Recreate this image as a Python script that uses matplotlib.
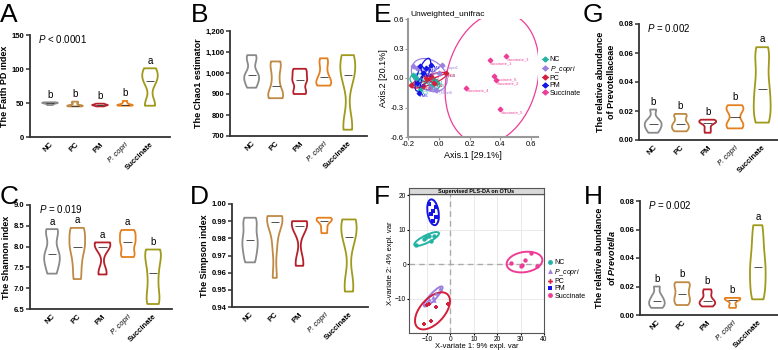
import numpy as np
import matplotlib
matplotlib.use("Agg")
import matplotlib.pyplot as plt
from matplotlib.patches import Ellipse
from matplotlib.lines import Line2D
from matplotlib.ticker import FuncFormatter

plt.rcParams['font.family'] = ['Liberation Sans', 'DejaVu Sans']
plt.rcParams['mathtext.fontset'] = 'custom'
plt.rcParams['mathtext.it'] = 'Liberation Sans:italic'
plt.rcParams['mathtext.rm'] = 'Liberation Sans'
plt.rcParams['mathtext.sf'] = 'Liberation Sans:italic:bold'
plt.rcParams['mathtext.bf'] = 'Liberation Sans:bold'

# ---- data ----
groups = ['NC', 'PC', 'PM', 'P. copri', 'Succinate']
colors = ['#8a8a8a', '#bf8a45', '#b5202a', '#e5801e', '#a09a1c']

faith = [[47, 48.5, 49.5, 50, 50.5, 51],
         [45, 45.5, 46, 46.5, 50, 52],
         [45, 46, 47, 47, 48, 49],
         [46, 46.5, 47, 47.5, 50, 53],
         [46, 48, 80, 86, 95, 101]]
chao1 = [[930, 960, 985, 995, 1060, 1085],
         [880, 890, 910, 970, 1030, 1055],
         [900, 915, 960, 970, 1005, 1020],
         [940, 950, 965, 995, 1040, 1070],
         [730, 760, 980, 1000, 1060, 1085]]
shannon = [[7.35, 7.6, 7.75, 7.9, 8.3, 8.42],
           [7.22, 7.6, 7.95, 8.05, 8.35, 8.45],
           [7.33, 7.4, 7.95, 8.05, 8.08, 8.1],
           [7.75, 7.85, 8.05, 8.15, 8.3, 8.4],
           [6.62, 6.8, 7.2, 7.55, 7.85, 7.93]]
simpson = [[0.966, 0.972, 0.977, 0.981, 0.988, 0.992],
           [0.957, 0.975, 0.988, 0.991, 0.992, 0.993],
           [0.964, 0.967, 0.986, 0.988, 0.989, 0.990],
           [0.983, 0.986, 0.989, 0.991, 0.991, 0.992],
           [0.949, 0.955, 0.978, 0.984, 0.989, 0.991]]
prevotellaceae = [[0.005, 0.008, 0.010, 0.012, 0.014, 0.021],
                  [0.006, 0.008, 0.010, 0.012, 0.016, 0.018],
                  [0.005, 0.008, 0.0115, 0.0125, 0.013, 0.014],
                  [0.008, 0.010, 0.013, 0.019, 0.022, 0.024],
                  [0.012, 0.020, 0.030, 0.040, 0.055, 0.064]]
prevotella = [[0.005, 0.007, 0.009, 0.011, 0.014, 0.020],
              [0.007, 0.010, 0.013, 0.017, 0.021, 0.023],
              [0.006, 0.008, 0.009, 0.011, 0.015, 0.018],
              [0.005, 0.007, 0.010, 0.011, 0.012, 0.012],
              [0.011, 0.020, 0.030, 0.038, 0.050, 0.063]]

faith_letters = ['b', 'b', 'b', 'b', 'a']
shannon_letters = ['a', 'a', 'a', 'a', 'b']
g_letters = ['b', 'b', 'b', 'b', 'a']

# beta diversity (PCoA, unweighted unifrac)
pcoa_groups = ['NC', 'P_copri', 'PC', 'PM', 'Succinate']
beta_colors = ['#22b3a3', '#9c80e0', '#d41f3c', '#1414e6', '#ee3d96']
pcoa_x = [[-0.17, -0.15, -0.05, -0.03, -0.12, -0.02],
          [-0.17, -0.14, 0.02, 0.0, -0.02, -0.06],
          [-0.18, -0.08, -0.05, 0.05, -0.10, -0.03],
          [-0.12, -0.05, -0.13, -0.14, -0.08, -0.10],
          [0.33, 0.44, 0.36, 0.37, 0.18, 0.40]]
pcoa_y = [[0.03, 0.00, -0.08, -0.02, -0.12, -0.05],
          [0.12, 0.10, 0.13, 0.05, -0.12, -0.10],
          [-0.07, 0.00, 0.02, 0.05, -0.08, -0.05],
          [0.12, 0.13, -0.15, -0.05, 0.10, 0.05],
          [0.18, 0.22, 0.02, -0.02, -0.10, -0.32]]
pcoa_labels = [['NC1', 'NC2', 'NC3', 'NC4', 'NC5', 'NC6'],
               ['P_copri3', 'P_copri2', 'P_copri1', 'P_copri4', 'P_copri6', 'P_copri5'],
               ['PC6', 'PC1', 'PC2', 'PC5', 'PC3', 'PC4'],
               ['PM1', 'PM2', 'PM6', 'PM5', 'PM3', 'PM4'],
               ['Succinate_1', 'Succinate_3', 'Succinate_6', 'Succinate_2', 'Succinate_4', 'Succinate_5']]

# PLS-DA
pls_x = [[-14.5, -11.5, -10.5, -9.0, -7.0, -8.5],
         [-10.0, -9.0, -7.5, -6.0, -4.5, -7.0],
         [-11.5, -8.5, -9.0, -6.0, -1.0, -10.0],
         [-9.0, -6.0, -7.5, -8.5, -6.0, -7.5],
         [34.5, 32.0, 30.0, 30.5, 26.0, 37.0]]
pls_y = [[5.5, 7.2, 7.8, 8.0, 8.2, 6.8],
         [-11.0, -10.0, -9.5, -8.5, -7.0, -10.5],
         [-17.5, -16.5, -11.5, -12.5, -11.5, -12.0],
         [17.5, 16.5, 15.5, 14.5, 13.5, 12.5],
         [3.3, 1.2, -0.5, -0.2, 0.3, -0.7]]
pls_markers = ['o', '^', 'P', 's', 'o']

W, H = 778, 350
fig = plt.figure(figsize=(W / 100, H / 100), dpi=100)


def px(l, t, r, b):
    return [l / W, 1 - b / H, (r - l) / W, (b - t) / H]


def violin_panel(rect, data, xlim, ylim, yticks, ylabel, fmt=None, letters=None, pval=None):
    ax = fig.add_axes(px(*rect))
    pos = np.arange(len(data))
    parts = ax.violinplot(data, positions=pos, widths=0.62, showextrema=False, bw_method=0.45)
    for body, c in zip(parts['bodies'], colors):
        body.set_facecolor('none')
        body.set_edgecolor(c)
        body.set_linewidth(1.3)
        body.set_alpha(1)
    meds = [np.median(d) for d in data]
    ax.hlines(meds, pos - 0.17, pos + 0.17, color='#333333', lw=0.6)
    ax.set_xlim(*xlim)
    ax.set_ylim(*ylim)
    ax.set_yticks(yticks)
    if fmt:
        ax.yaxis.set_major_formatter(FuncFormatter(fmt))
    ax.set_xticks(pos)
    ax.set_xticklabels(groups, rotation=45, ha='right', rotation_mode='anchor', fontsize=5.5, fontweight='bold')
    lab = ax.get_xticklabels()[3]
    lab.set_fontstyle('italic')
    lab.set_fontweight('normal')
    for s in ['top', 'right']:
        ax.spines[s].set_visible(False)
    for s in ['left', 'bottom']:
        ax.spines[s].set_linewidth(1.3)
        ax.spines[s].set_color('#333333')
    ax.tick_params(axis='y', length=3, width=1.1, labelsize=5.5, pad=1, color='#333333')
    ax.tick_params(axis='x', length=0, pad=3)
    for t in ax.get_yticklabels():
        t.set_fontweight('bold')
    ax.set_ylabel(ylabel, fontsize=6.5, fontweight='bold', labelpad=2)
    if letters:
        span = ylim[1] - ylim[0]
        for i, (d, l) in enumerate(zip(data, letters)):
            ax.text(i, max(d) + 0.025 * span, l, ha='center', va='bottom', fontsize=7)
    if pval:
        ax.text(0.06, 0.965, pval, transform=ax.transAxes, ha='left', va='center', fontsize=7)
    return ax


violin_panel((30, 35, 170, 137), faith, (-0.8, 4.8), (0, 150), [0, 50, 100, 150],
             'The Faith PD index', letters=faith_letters, pval=r'$\mathit{P}$ < 0.0001')
violin_panel((230, 31, 367, 136), chao1, (-0.9, 4.8), (700, 1200), range(700, 1201, 100),
             'The Chao1 estimator', fmt=lambda v, p: f'{int(v):,}')
violin_panel((30, 205, 172, 309), shannon, (-0.87, 4.75), (6.5, 9.0), [6.5, 7.0, 7.5, 8.0, 8.5, 9.0],
             'The Shannon index', fmt=lambda v, p: f'{v:.1f}', letters=shannon_letters,
             pval=r'$\mathit{P}$ = 0.019')
violin_panel((232, 204, 368, 307), simpson, (-0.73, 4.77), (0.94, 1.0), np.arange(0.94, 1.001, 0.01),
             'The Simpson index', fmt=lambda v, p: f'{v:.2f}')
violin_panel((639, 24, 778, 140), prevotellaceae, (-0.52, 4.58), (0, 0.08), [0, 0.02, 0.04, 0.06, 0.08],
             'The relative abundance\nof Prevotellaceae', fmt=lambda v, p: f'{v:.2f}',
             letters=g_letters, pval=r'$\mathit{P}$ = 0.002')
violin_panel((640, 201, 778, 315), prevotella, (-0.67, 4.8), (0, 0.08), [0, 0.02, 0.04, 0.06, 0.08],
             'The relative abundance\nof $\\mathsf{Prevotella}$', fmt=lambda v, p: f'{v:.2f}',
             letters=g_letters, pval=r'$\mathit{P}$ = 0.002')


def cov_ellipse(ax, x, y, scale, color, lw):
    x = np.asarray(x)
    y = np.asarray(y)
    cov = np.cov(x, y)
    vals, vecs = np.linalg.eigh(cov)
    ang = np.degrees(np.arctan2(vecs[1, 1], vecs[0, 1]))
    w, h = 2 * scale * np.sqrt(vals[1]), 2 * scale * np.sqrt(vals[0])
    ax.add_patch(Ellipse((x.mean(), y.mean()), w, h, angle=ang, fill=False, ec=color, lw=lw))


# ---- E: PCoA ----
axE = fig.add_axes(px(408, 19, 538, 137))
for k, (xs, ys, labs, c) in enumerate(zip(pcoa_x, pcoa_y, pcoa_labels, beta_colors)):
    cx, cy = np.mean(xs), np.mean(ys)
    succ = pcoa_groups[k] == 'Succinate'
    for x, y, l in zip(xs, ys, labs):
        if not succ:
            axE.plot([cx, x], [cy, y], color=c, lw=0.9)
        axE.text(x + 0.005, y - 0.01, l, color=c, fontsize=3, ha='left', va='top')
    axE.scatter(xs, ys, color=c, s=5, marker='D', zorder=3)
    cov_ellipse(axE, xs, ys, 3.4 if succ else 1.5, c, 0.9)
axE.set_xlim(-0.2, 0.645)
axE.set_ylim(-0.6, 0.6)
axE.set_xticks([-0.2, 0.0, 0.2, 0.4, 0.6])
axE.set_yticks([-0.6, -0.3, 0.0, 0.3, 0.6])
axE.xaxis.set_major_formatter(FuncFormatter(lambda v, p: f'{v:.1f}'))
axE.yaxis.set_major_formatter(FuncFormatter(lambda v, p: f'{v:.1f}'))
for s in ['top', 'right']:
    axE.spines[s].set_visible(False)
for s in ['left', 'bottom']:
    axE.spines[s].set_color('#999999')
    axE.spines[s].set_linewidth(1.5)
axE.tick_params(length=2, labelsize=5.5, pad=1, color='#999999')
axE.set_xlabel('Axis.1 [29.1%]', fontsize=6.5, labelpad=2)
axE.set_ylabel('Axis.2 [20.1%]', fontsize=6.5, labelpad=2)
axE.set_title('Unweighted_unifrac', fontsize=6, loc='left', pad=2, x=0.02)
hE = [Line2D([], [], color=c, marker='D', markersize=2.5, lw=0.8) for c in beta_colors]
axE.legend(hE, ['NC', '$\\mathit{P\\_copri}$', 'PC', 'PM', 'Succinate'], loc='upper left',
           bbox_to_anchor=(1.0, 0.72), fontsize=5, frameon=False, handlelength=0.8,
           handletextpad=0.3, labelspacing=0.05, borderaxespad=0.2)

# ---- F: PLS-DA ----
axF = fig.add_axes(px(409, 194, 544, 333))
axF.axhline(0, color='#aaaaaa', ls=(0, (4, 3)), lw=1, zorder=1)
axF.axvline(0, color='#aaaaaa', ls=(0, (4, 3)), lw=1, zorder=1)
for xs, ys, c, m in zip(pls_x, pls_y, beta_colors, pls_markers):
    axF.scatter(xs, ys, color=c, marker=m, s=10, zorder=3, lw=0)
    cov_ellipse(axF, xs, ys, 2.0, c, 1.4)
axF.set_xlim(-17.7, 40)
axF.set_ylim(-20, 20.3)
axF.set_xticks([-10, 0, 10, 20, 30, 40])
axF.set_yticks([-10, 0, 10, 20])
axF.grid(True, color='#e6e6e6', lw=0.6)
axF.set_axisbelow(True)
for s in axF.spines.values():
    s.set_color('#555555')
    s.set_linewidth(0.8)
axF.tick_params(length=1.5, labelsize=4.8, pad=0.5)
axF.set_xlabel('X-variate 1: 9% expl. var', fontsize=5.5, labelpad=0)
axF.set_ylabel('X-variate 2: 4% expl. var', fontsize=5.5, labelpad=1)
strip = fig.add_axes(px(409, 188, 544, 194))
strip.set_facecolor('#d9d9d9')
strip.set_xticks([])
strip.set_yticks([])
for s in strip.spines.values():
    s.set_color('#555555')
    s.set_linewidth(0.8)
strip.text(0.5, 0.5, 'Supervised PLS-DA on OTUs', fontsize=4, fontweight='bold', ha='center', va='center')
hF = [Line2D([], [], color=c, marker=m, markersize=3.5, lw=0, markeredgewidth=0) for c, m in zip(beta_colors, pls_markers)]
axF.legend(hF, ['NC', '$\\mathit{P\\_copri}$', 'PC', 'PM', 'Succinate'], loc='upper left',
           bbox_to_anchor=(1.0, 0.56), fontsize=5, frameon=False, handlelength=0.6,
           handletextpad=0.3, labelspacing=0.05, borderaxespad=0.2)

# ---- panel letters ----
for letter, x, y in [('A', 0, 3), ('B', 191, 3), ('E', 374, 3), ('G', 583, 3),
                     ('C', 0, 185), ('D', 190, 185), ('F', 374, 185), ('H', 584, 185)]:
    fig.text(x / W, 1 - y / H, letter, fontsize=19, ha='left', va='top')

fig.savefig('out.png', dpi=100)
